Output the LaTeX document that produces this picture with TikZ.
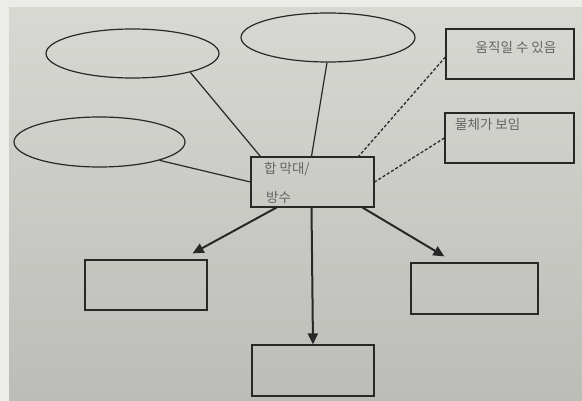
\documentclass[tikz,border=0pt]{standalone}
\usepackage{fontspec}
\newfontfamily\kr{Noto Sans CJK KR}
\usetikzlibrary{shapes.geometric,arrows.meta,calc}
\definecolor{paper}{RGB}{214,214,209}
\definecolor{paperedge}{RGB}{236,236,233}
\definecolor{ink}{RGB}{40,40,40}
\definecolor{pencil}{RGB}{100,100,100}
\tikzset{
  oval/.style={draw=ink, line width=1.2pt, ellipse, inner sep=0pt},
  box/.style={draw=ink, line width=1.2pt, rectangle, inner sep=0pt},
  link/.style={draw=ink, line width=1.2pt},
  dashlink/.style={draw=ink, line width=1.3pt, dash pattern=on 3pt off 2pt},
  branch/.style={draw=ink, line width=2pt, -{Triangle[length=11pt,width=10pt]}},
  hand/.style={text=pencil, font=\kr\fontsize{13.5}{14}\selectfont, inner sep=0pt}
}
\begin{document}
\begin{tikzpicture}[x=1pt,y=-1pt]
\useasboundingbox (0,0) rectangle (582,401);
% sheet of paper
\fill[paperedge] (0,0) rectangle (582,401);
\shade[top color=paper!95!white, bottom color=paper!88!black] (9,8) rectangle (582,401);

% empty ovals
\node[oval, minimum width=173pt, minimum height=49pt] (ovA) at (132.5,53.5) {};
\node[oval, minimum width=174pt, minimum height=49pt] (ovT) at (328,37.5) {};
\node[oval, minimum width=171pt, minimum height=50pt] (ovL) at (99.5,142) {};

% central box
\node[box, minimum width=123pt, minimum height=50pt] (core) at (312.5,182) {};
\node[hand, anchor=west] (coreA) at (264,169) {합 막대/};
\node[hand, anchor=west] (coreB) at (266,197) {방수};

% boxes on the right
\node[box, minimum width=128pt, minimum height=50pt] (tr) at (510,54) {};
\node[hand] (trt) at (516,47) {움직일 수 있음};
\node[box, minimum width=129pt, minimum height=50pt] (rr) at (509.5,138) {};
\node[hand, anchor=west] (rrt) at (455,124) {물체가 보임};

% empty boxes below
\node[box, minimum width=122pt, minimum height=50pt] (bl) at (146,285) {};
\node[box, minimum width=122pt, minimum height=51pt] (bc) at (313,370.5) {};
\node[box, minimum width=127pt, minimum height=51pt] (br) at (474.5,288.5) {};

% solid links
\draw[link] (ovA.-18) -- ([xshift=10pt]core.north west);
\draw[link] ([xshift=-1pt]ovT.south) -- ([xshift=-1pt]core.north);
\draw[link] (ovL.-17) -- (core.west);

% dashed links
\draw[dashlink] ([yshift=-3pt]tr.west) -- ([xshift=-16pt]core.north east);
\draw[dashlink] (rr.west) -- (core.east);

% arrows
\draw[branch] ([xshift=26pt]core.south west) -- ([xshift=-15pt,yshift=6pt]bl.north east);
\draw[branch] ([xshift=-1pt]core.south) -- (bc.north);
\draw[branch] ([xshift=-12pt]core.south east) -- ([xshift=34pt,yshift=6pt]br.north west);
\end{tikzpicture}
\end{document}
